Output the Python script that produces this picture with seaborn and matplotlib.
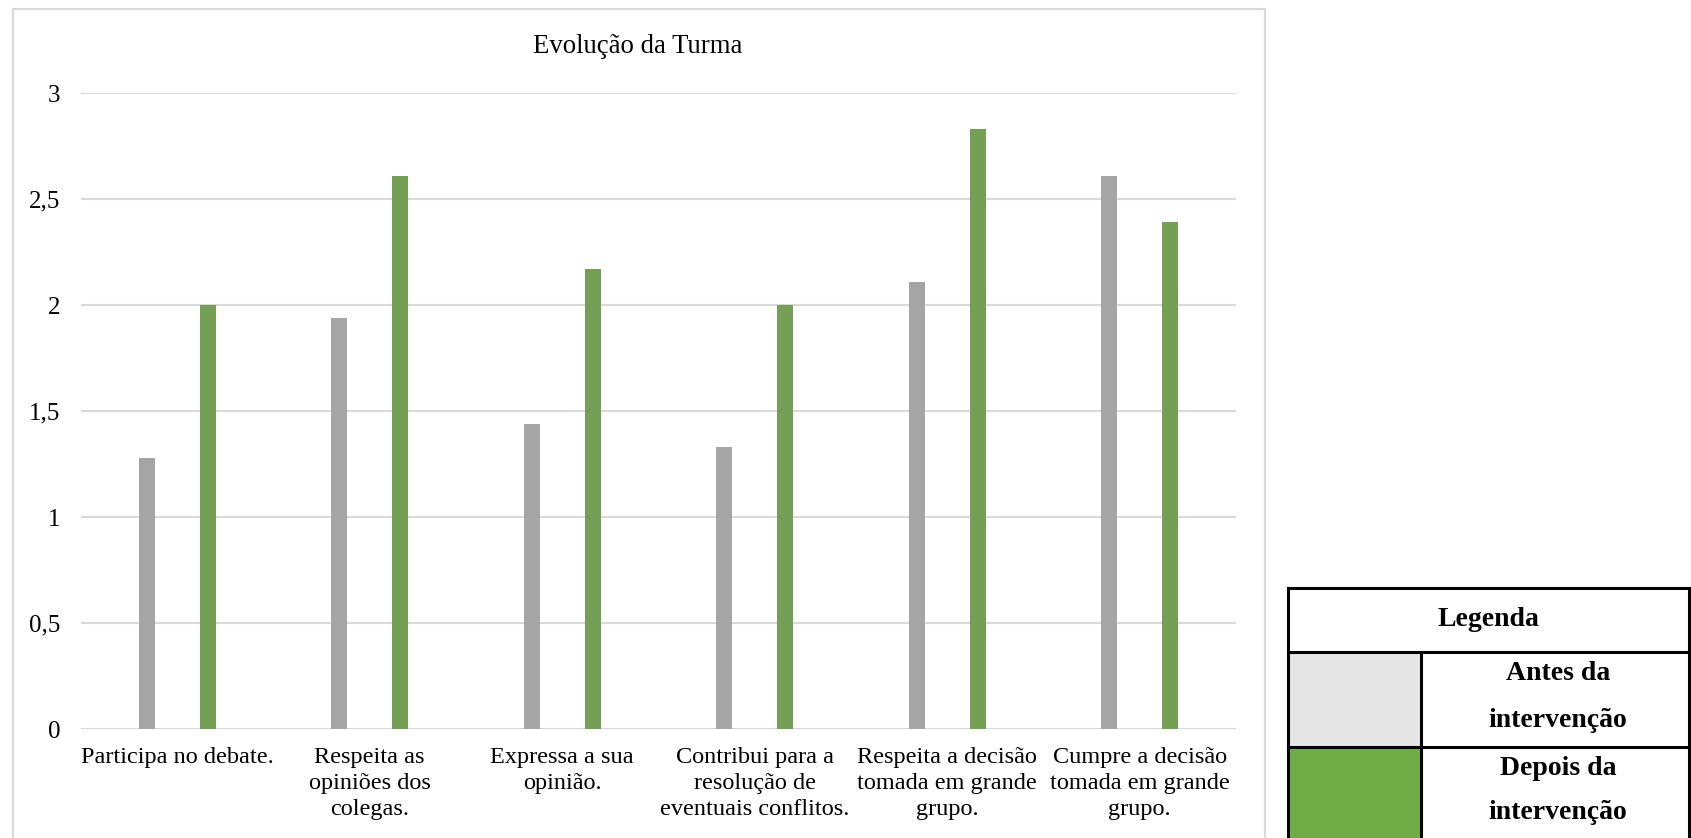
import matplotlib
matplotlib.use("Agg")
import matplotlib.pyplot as plt
from matplotlib.patches import Rectangle
from matplotlib.lines import Line2D
import seaborn as sns
import pandas as pd

# Data
categories = [
    "Participa no debate.",
    "Respeita as\nopiniões dos\ncolegas.",
    "Expressa a sua\nopinião.",
    "Contribui para a\nresolução de\neventuais conflitos.",
    "Respeita a decisão\ntomada em grande\ngrupo.",
    "Cumpre a decisão\ntomada em grande\ngrupo.",
]
antes = [1.28, 1.94, 1.44, 1.33, 2.11, 2.61]
depois = [2.00, 2.61, 2.17, 2.00, 2.83, 2.39]
series_names = ["Antes da intervenção", "Depois da intervenção"]
y_ticks = [0, 0.5, 1, 1.5, 2, 2.5, 3]
y_tick_labels = ["0", "0,5", "1", "1,5", "2", "2,5", "3"]

GRAY = "#A5A5A5"
GREEN = "#70AD47"
LIGHT = "#E7E6E6"
GRID = "#D9D9D9"

sns.set_theme(style="white")
plt.rcParams["font.family"] = ["Liberation Serif", "DejaVu Serif"]

df = pd.DataFrame({
    "categoria": categories * 2,
    "valor": antes + depois,
    "periodo": [series_names[0]] * len(categories) + [series_names[1]] * len(categories),
})

W, H = 1691, 838
fig = plt.figure(figsize=(W / 100, H / 100), dpi=100)
fig.patch.set_facecolor("white")

def fx(px):
    return px / W

def fy(py):
    return 1 - py / H

# chart frame
fig.add_artist(Rectangle((fx(13), fy(860)), fx(1265) - fx(13), fy(9) - fy(860),
                         transform=fig.transFigure, fill=False, edgecolor=GRID, lw=1.6))

ax = fig.add_axes([fx(81), fy(729), fx(1236) - fx(81), fy(93) - fy(729)])
sns.barplot(data=df, x="categoria", y="valor", hue="periodo",
            palette=[GRAY, GREEN], width=0.636, gap=0.736,
            linewidth=0, legend=False, ax=ax)

ax.set_ylim(0, 3)
ax.set_xlim(-0.5, len(categories) - 0.5)
ax.set_yticks(y_ticks)
ax.set_yticklabels(y_tick_labels)
ax.set_xlabel("")
ax.set_ylabel("")
for s in ax.spines.values():
    s.set_visible(False)
ax.grid(axis="y", color=GRID, lw=1.5)
ax.set_axisbelow(True)
ax.tick_params(axis="y", length=0, pad=15, labelsize=18, colors="black")
ax.tick_params(axis="x", length=0, pad=13, labelsize=17.5, colors="black")
for lbl in ax.get_xticklabels():
    lbl.set_linespacing(1.3)
    lbl.set_ha("center")

fig.text(fx(638), fy(53), "Evolução da Turma", ha="center", va="baseline",
         fontsize=19.3, color="black")

# legend table
L, R, T = 1288, 1689, 588
R1, R2, C = 652, 747, 1421
B = 860
fig.add_artist(Rectangle((fx(L), fy(R2)), fx(C) - fx(L), fy(R1) - fy(R2),
                         transform=fig.transFigure, facecolor=LIGHT, edgecolor="none"))
fig.add_artist(Rectangle((fx(L), fy(B)), fx(C) - fx(L), fy(R2) - fy(B),
                         transform=fig.transFigure, facecolor=GREEN, edgecolor="none"))
lw = 2.2
for (x0, y0, x1, y1) in [(L, T, R, T), (L, R1, R, R1), (L, R2, R, R2),
                         (L, T, L, B), (R, T, R, B), (C, R1, C, B)]:
    fig.add_artist(Line2D([fx(x0), fx(x1)], [fy(y0), fy(y1)], transform=fig.transFigure,
                          color="black", lw=lw, solid_capstyle="projecting"))

tkw = dict(ha="center", va="center", fontsize=20, fontweight="bold", color="black")
fig.text(fx((L + R) / 2), fy(619), "Legenda", **tkw)
cx = fx((C + R) / 2 + 3)
fig.text(cx, fy(673), "Antes da", **tkw)
fig.text(cx, fy(720), "intervenção", **tkw)
fig.text(cx, fy(768), "Depois da", **tkw)
fig.text(cx, fy(812), "intervenção", **tkw)

fig.savefig("out.png", dpi=100)
